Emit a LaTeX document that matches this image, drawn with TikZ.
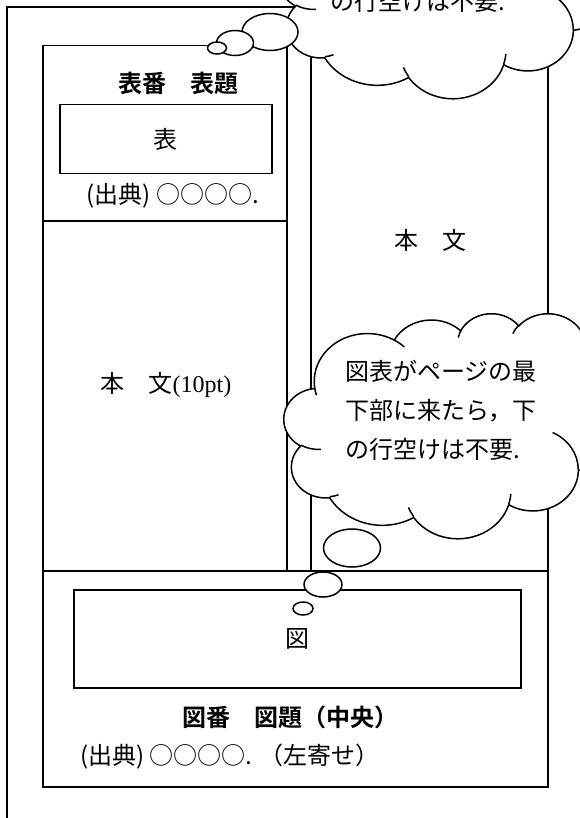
\documentclass[tikz,border=0pt]{standalone}
\usepackage{fontspec}
\setmainfont{Liberation Serif}
\newfontfamily\jp{Noto Sans CJK JP}
\newfontfamily\jpb{Noto Sans CJK JP}[BoldFont={* Bold}]
\tikzset{
  ln/.style={line width=1.5pt, black},
  bubble/.style={ln, fill=white},
  txt/.style={font=\jp\fontsize{24}{29}\selectfont, inner sep=0pt},
  ttl/.style={font=\jpb\bfseries\fontsize{24}{29}\selectfont, inner sep=0pt},
}
\newcommand\mycloud[4]{%
  \begin{scope}[shift={(#1,#2)}, x={(#3pt,0pt)}, y={(0pt,-#4pt)}]
    \filldraw[ln, fill=white] (39,143.7)
    \foreach \rw/\rh/\st/\sw in {
      67.53/91.90/-190.4875/123.7805,
      53.33/72.67/-144.1024/89.9452,
      43.65/59.45/-145.8079/99.7230,
      48.57/65.95/-130.9861/117.2417,
      53.33/72.73/-78.7089/109.0269,
      67.75/92.20/-46.2673/130.2690,
      57.85/78.67/0.6250/114.0333,
      67.52/92.15/22.4516/115.1726,
      77.20/105.43/66.2426/75.7110,
      43.60/59.18/-274.9421/146.7356,
      43.45/59.45/-246.8285/152.5189}{
      arc[start angle={atan2(\rw*sin(\st),\rh*cos(\st))},
          delta angle={mod(atan2(\rw*sin(\st+\sw),\rh*cos(\st+\sw))-atan2(\rw*sin(\st),\rh*cos(\st))+720,360)},
          x radius=\rw, y radius=\rh]
    } -- cycle;
    \foreach \px/\py/\rw/\rh/\st/\sw in {
      46.93/261.77/43.45/59.45/86.7420/26.4295,
      69.28/348.99/43.60/59.18/73.6105/11.4475,
      164.78/390.90/67.52/92.15/137.6242/14.0811,
      288.27/347.51/67.52/92.15/6.4533/15.9984,
      341.29/229.54/57.85/78.67/-70.2924/70.9174,
      417.98/153.54/53.33/72.73/30.3180/27.7515,
      383.24/54.26/48.57/65.95/-13.7443/14.8589,
      290.78/39.52/48.57/65.95/-149.1815/18.1954,
      221.41/47.20/43.65/59.45/-163.4943/17.6864,
      140.00/51.92/67.53/91.90/-66.7070/12.3194,
      41.27/157.89/67.53/91.90/157.6544/11.8582}{
      \draw[ln] (\px,\py)
        arc[start angle={atan2(\rw*sin(\st),\rh*cos(\st))},
            delta angle={mod(atan2(\rw*sin(\st+\sw),\rh*cos(\st+\sw))-atan2(\rw*sin(\st),\rh*cos(\st))+720,360)},
            x radius=\rw, y radius=\rh];
    }
  \end{scope}}
\begin{document}
\begin{tikzpicture}[x=1pt, y=-1pt]
  \useasboundingbox (0,0) rectangle (579,818);
  % page frame
  \coordinate (pgbl) at (7,830);
  \coordinate (pgtl) at (7,7);
  \coordinate (pgtr) at (600,7);
  \draw[ln] (pgbl) -- (pgtl) -- (pgtr);
  % left column
  \node[draw, ln, minimum width=244pt, minimum height=525pt, inner sep=0pt, anchor=north west] (lcol) at (42,45) {};
  \coordinate (sepl) at (42,221);
  \coordinate (sepr) at (286,221);
  \draw[ln] (sepl) -- (sepr);
  \node[draw, ln, minimum width=212pt, minimum height=69pt, inner sep=0pt, anchor=north west] (tbl) at (59,104) {};
  \node[txt] (tblt) at (tbl.center) {表};
  \node[ttl] (tttl) at (178,83) {表番　表題};
  \node[txt] (tsrc) at (173,196) {(出典) ○○○○.};
  \node[txt] (lbody) at (166,385) {本　文\rmfamily\fontsize{24}{29}\selectfont(10pt)};
  % right column
  \node[draw, ln, minimum width=237pt, minimum height=525pt, inner sep=0pt, anchor=north west] (rcol) at (310,45) {};
  \node[txt] (rbody) at (430,240) {本　文};
  % figure block
  \node[draw, ln, fill=white, minimum width=505pt, minimum height=216pt, inner sep=0pt, anchor=north west] (fblk) at (42,570) {};
  \node[draw, ln, minimum width=447pt, minimum height=98pt, inner sep=0pt, anchor=north west] (fig) at (73,589) {};
  \node[txt] (figt) at (fig.center) {図};
  \node[ttl] (fttl) at (290,717) {図番　図題（中央）};
  \node[txt, anchor=west] (fsrc) at (80,757) {(出典) ○○○○. （左寄せ）};
  % top cloud
  \mycloud{279}{-127}{0.787}{0.5208}
  \node[txt, anchor=west] (ctop) at (330,1) {の行空けは不要.};
  \draw[bubble] (270,32) ellipse [x radius=28, y radius=18.5];
  \draw[bubble] (235,43) ellipse [x radius=18.5, y radius=12.5];
  \draw[bubble] (217,48) ellipse [x radius=9.5, y radius=6];
  % lower cloud
  \mycloud{284}{313}{0.787}{0.5208}
  \node[txt, anchor=north west, align=left, font=\jp\fontsize{24}{39}\selectfont] (cbot) at (345,360) {図表がページの最\\下部に来たら，下\\の行空けは不要.};
  \draw[bubble] (352,548) ellipse [x radius=28.5, y radius=19];
  \draw[bubble] (323,584.5) ellipse [x radius=19, y radius=12.5];
  \draw[bubble] (303,608.5) ellipse [x radius=10, y radius=6.5];
\end{tikzpicture}
\end{document}
